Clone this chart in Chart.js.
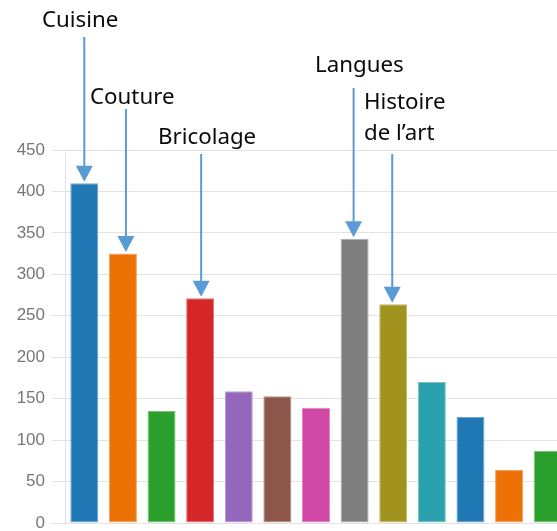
<!DOCTYPE html>
<html>
<head>
<meta charset="utf-8">
<script src="https://cdn.jsdelivr.net/npm/chart.js@4/dist/chart.umd.min.js"></script>
<style>
  html, body { margin: 0; padding: 0; background: #fff; overflow: hidden; }
  #wrap { width: 557px; height: 531px; overflow: hidden; }
</style>
</head>
<body>
<div id="wrap"><canvas id="chart" width="580" height="545"></canvas></div>
<script>
const categories = ['Cuisine', 'Couture', 'Jardinage', 'Bricolage', 'Photographie', 'Peinture', 'Musique',
  'Langues', 'Histoire de l’art', 'Informatique', 'Théâtre', 'Danse', 'Poterie'];
const values = [410, 325, 135, 271, 159, 153, 139, 343, 264, 170, 128, 64, 87];
const barColors = ['#1f77b4', '#ec7205', '#2ca02c', '#d62728', '#9467bd', '#8c564b', '#d248a6',
  '#7f7f7f', '#a2921e', '#2aa1ad', '#1f77b4', '#ec7205', '#2ca02c'];
const yTicks = [0, 50, 100, 150, 200, 250, 300, 350, 400, 450];

// callouts: which bar, label lines, where the text sits, where the arrow starts
const callouts = [
  { index: 0, lines: ['Cuisine'], tx: 42, ty: 27, y0: 37, dx: 0 },
  { index: 1, lines: ['Couture'], tx: 90, ty: 104, y0: 109, dx: 3 },
  { index: 3, lines: ['Bricolage'], tx: 158, ty: 144, y0: 154, dx: 1 },
  { index: 7, lines: ['Langues'], tx: 315, ty: 72, y0: 88, dx: -1 },
  { index: 8, lines: ['Histoire', 'de l’art'], tx: 364, ty: 109, y0: 154, dx: -1 },
];

function lighten(hex, a) {
  const n = parseInt(hex.slice(1), 16);
  const r = (n >> 16) & 255, g = (n >> 8) & 255, b = n & 255;
  const m = c => Math.round(c + (255 - c) * a);
  return `rgb(${m(r)},${m(g)},${m(b)})`;
}

const calloutPlugin = {
  id: 'callouts',
  afterDraw(chart) {
    const ctx = chart.ctx;
    const bars = chart.getDatasetMeta(0).data;
    ctx.save();
    ctx.font = "22.3px 'Noto Sans'";
    ctx.textBaseline = 'alphabetic';
    callouts.forEach(c => {
      ctx.fillStyle = '#0a0a0a';
      c.lines.forEach((t, i) => ctx.fillText(t, c.tx, c.ty + i * 31));
      const bar = bars[c.index];
      const x = bar.x + c.dx;
      const tip = bar.y - 1.5;
      const head = 16;
      ctx.strokeStyle = '#5b9bd5';
      ctx.fillStyle = '#5b9bd5';
      ctx.lineWidth = 2;
      ctx.beginPath();
      ctx.moveTo(x, c.y0);
      ctx.lineTo(x, tip - head + 1);
      ctx.stroke();
      ctx.beginPath();
      ctx.moveTo(x - 8.5, tip - head);
      ctx.lineTo(x + 8.5, tip - head);
      ctx.lineTo(x, tip);
      ctx.closePath();
      ctx.fill();
    });
    ctx.restore();
  }
};

new Chart(document.getElementById('chart'), {
  type: 'bar',
  data: {
    labels: categories,
    datasets: [{
      data: values,
      backgroundColor: barColors,
      borderColor: barColors.map(c => lighten(c, 0.35)),
      borderWidth: 1,
      borderSkipped: false,
      categoryPercentage: 1,
      barPercentage: 0.725,
    }]
  },
  options: {
    responsive: false,
    animation: false,
    layout: { padding: { top: 150, right: 13, bottom: 22, left: 0 } },
    plugins: { legend: { display: false }, tooltip: { enabled: false } },
    scales: {
      x: { display: false, grid: { display: false } },
      y: {
        min: 0, max: 450,
        afterFit: s => { s.width = 65; },
        afterBuildTicks: s => { s.ticks = yTicks.map(v => ({ value: v })); },
        ticks: { color: '#777', font: { size: 17, family: "'Liberation Sans', Arial" }, padding: 7 },
        grid: { color: '#e3e3e3', lineWidth: 1, tickLength: 13 },
        border: { display: true, color: '#e3e3e3' }
      }
    }
  },
  plugins: [calloutPlugin]
});
</script>
</body>
</html>
